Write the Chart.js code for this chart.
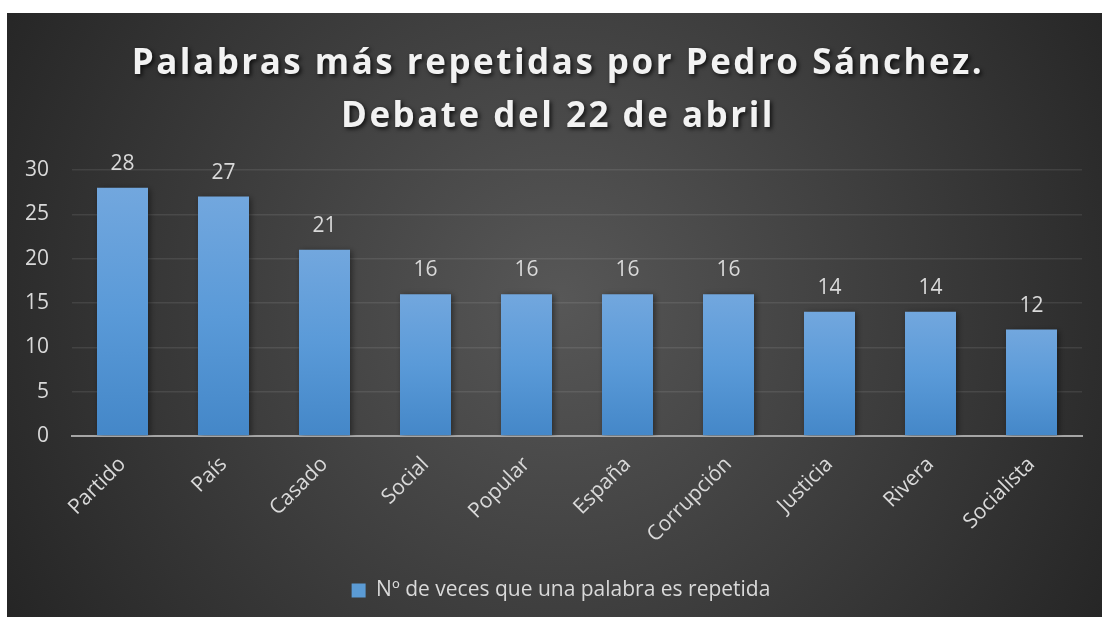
<!DOCTYPE html>
<html>
<head>
<meta charset="utf-8">
<script src="https://cdn.jsdelivr.net/npm/chart.js@4"></script>
<style>
html,body{margin:0;padding:0;background:#fff;}
#wrap{width:1102px;height:617px;position:relative;}
</style>
</head>
<body>
<div id="wrap"><canvas id="c" width="1102" height="617"></canvas></div>
<script>
const categories = ["Partido","País","Casado","Social","Popular","España","Corrupción","Justicia","Rivera","Socialista"];
const values = [28,27,21,16,16,16,16,14,14,12];
const seriesName = "Nº de veces que una palabra es repetida";
const titleLines = ["Palabras más repetidas por Pedro Sánchez.","Debate del 22 de abril"];
const yTicks = [0,5,10,15,20,25,30];

const FONT = "'Open Sans', sans-serif";
const TXT = '#d9d9d9';
const FS = 21;

const bgPlugin = {
  id:'bg',
  beforeDraw(chart){
    const ctx = chart.ctx;
    ctx.save();
    ctx.fillStyle = '#ffffff';
    ctx.fillRect(0,0,chart.width,chart.height);
    const g = ctx.createRadialGradient(560,300,0,560,300,640);
    g.addColorStop(0,'#575757');
    g.addColorStop(1,'#252525');
    ctx.fillStyle = g;
    ctx.fillRect(7,13,chart.width-7,chart.height-13);
    ctx.restore();
  }
};

const legendShift = {
  id:'legendShift',
  afterLayout(chart){
    if (chart.legend) { chart.legend.left += 33; }
  }
};

const titlePlugin = {
  id:'customTitle',
  afterDraw(chart){
    const ctx = chart.ctx;
    ctx.save();
    ctx.font = "bold 35px " + FONT;
    ctx.letterSpacing = '2.5px';
    ctx.textAlign = 'center';
    ctx.textBaseline = 'alphabetic';
    ctx.fillStyle = '#f2f2f2';
    ctx.shadowColor = 'rgba(0,0,0,0.75)';
    ctx.shadowBlur = 4;
    ctx.shadowOffsetX = 2;
    ctx.shadowOffsetY = 2;
    const ys = [74,127];
    titleLines.forEach((t,i)=>ctx.fillText(t,558,ys[i]));
    ctx.restore();
  }
};

const shadowPlugin = {
  id:'barShadow',
  beforeDatasetsDraw(chart){
    const ctx = chart.ctx;
    ctx.save();
    ctx.shadowColor = 'rgba(0,0,0,0.45)';
    ctx.shadowBlur = 6;
    ctx.shadowOffsetX = 2;
    ctx.shadowOffsetY = 1;
  },
  afterDatasetsDraw(chart){
    chart.ctx.restore();
    const ctx = chart.ctx;
    ctx.save();
    ctx.font = FS + "px " + FONT;
    ctx.fillStyle = TXT;
    ctx.textAlign = 'center';
    ctx.textBaseline = 'alphabetic';
    const meta = chart.getDatasetMeta(0);
    meta.data.forEach((bar,i)=>{
      ctx.fillText(String(chart.data.datasets[0].data[i]), bar.x, bar.y - 18);
    });
    ctx.restore();
  }
};

function barGradient(context){
  const chart = context.chart;
  if (!chart.chartArea || context.dataIndex === undefined) return '#5b9bd5';
  const y = chart.scales.y;
  const v = context.raw;
  const top = y.getPixelForValue(v);
  const bottom = y.getPixelForValue(0);
  const g = chart.ctx.createLinearGradient(0,top,0,bottom);
  g.addColorStop(0,'#72a7de');
  g.addColorStop(0.5,'#5a9ad8');
  g.addColorStop(1,'#4487c8');
  return g;
}

new Chart(document.getElementById('c'),{
  type:'bar',
  data:{
    labels:categories,
    datasets:[{
      label:seriesName,
      data:values,
      backgroundColor:barGradient,
      borderWidth:0,
      categoryPercentage:1.0,
      barPercentage:0.505
    }]
  },
  options:{
    responsive:false,
    animation:false,
    devicePixelRatio:1,
    layout:{padding:{left:7,right:20,top:170,bottom:6}},
    scales:{
      x:{
        grid:{display:false,drawTicks:false},
        border:{display:true,color:'#a6a6a6',width:2},
        ticks:{color:TXT,font:{family:FONT,size:FS},minRotation:45,maxRotation:45,padding:16,autoSkip:false},
        afterFit(scale){ scale.height = 134; }
      },
      y:{
        min:0,max:30,
        afterBuildTicks(scale){ scale.ticks = yTicks.map(v=>({value:v})); },
        grid:{color:'rgba(255,255,255,0.09)',lineWidth:1.5,drawTicks:false},
        border:{display:false},
        ticks:{color:TXT,font:{family:FONT,size:FS},padding:23},
        afterFit(scale){ scale.width = 65; }
      }
    },
    plugins:{
      legend:{
        position:'bottom',
        labels:{color:TXT,font:{family:FONT,size:FS},boxWidth:14,boxHeight:14,padding:10,
          generateLabels(chart){
            return [{text:seriesName,fillStyle:'#5b9bd5',strokeStyle:'#5b9bd5',lineWidth:0,fontColor:TXT,datasetIndex:0}];
          }}
      },
      title:{display:false},
      tooltip:{enabled:false}
    }
  },
  plugins:[bgPlugin,legendShift,shadowPlugin,titlePlugin]
});
</script>
</body>
</html>
